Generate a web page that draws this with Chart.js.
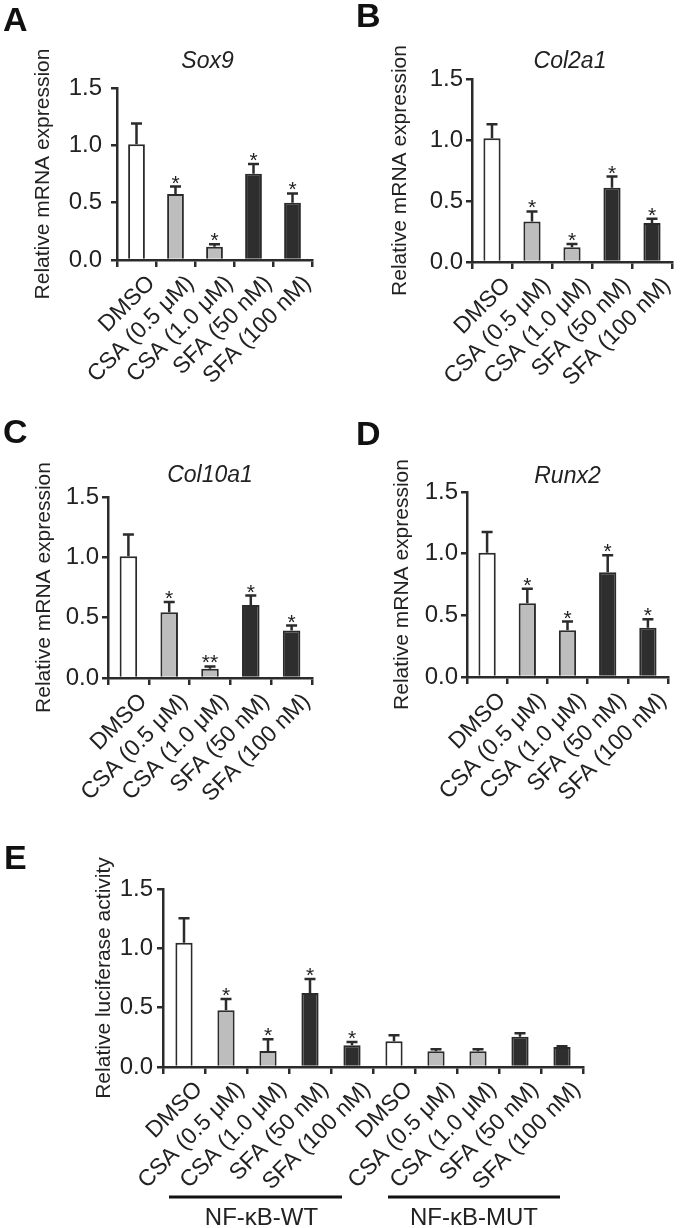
<!DOCTYPE html>
<html><head><meta charset="utf-8">
<script src="https://cdn.jsdelivr.net/npm/chart.js@4.4.1/dist/chart.umd.min.js"></script>
<style>
html,body{margin:0;padding:0;background:#fff;}
body{width:680px;height:1228px;position:relative;overflow:hidden;}
canvas{position:absolute;}
</style></head><body>
<canvas id="cA" style="left:0px;top:0px" width="340" height="395"></canvas>
<canvas id="cB" style="left:340px;top:0px" width="340" height="395"></canvas>
<canvas id="cC" style="left:0px;top:410px" width="340" height="400"></canvas>
<canvas id="cD" style="left:340px;top:410px" width="340" height="400"></canvas>
<canvas id="cE" style="left:0px;top:840px" width="680" height="388"></canvas>
<script>
// ---------- data ----------
const categories = ['DMSO','CSA (0.5 μM)','CSA (1.0 μM)','SFA (50 nM)','SFA (100 nM)'];
const categoriesE = categories.concat(categories);

const sox9     = [1.01, 0.576, 0.116, 0.753, 0.50];
const sox9Err  = [0.18, 0.064, 0.021, 0.084, 0.08];
const sox9Sig  = ['', '*', '*', '*', '*'];

const col2a1    = [1.014, 0.332, 0.12, 0.608, 0.32];
const col2a1Err = [0.116, 0.082, 0.027, 0.092, 0.034];
const col2a1Sig = ['', '*', '*', '*', '*'];

const col10a1    = [1.01, 0.545, 0.077, 0.606, 0.394];
const col10a1Err = [0.18, 0.085, 0.019, 0.077, 0.041];
const col10a1Sig = ['', '*', '**', '*', '*'];

const runx2    = [1.008, 0.597, 0.379, 0.849, 0.40];
const runx2Err = [0.167, 0.118, 0.07, 0.138, 0.068];
const runx2Sig = ['', '*', '*', '*', '*'];

const lucWT     = [1.048, 0.479, 0.135, 0.623, 0.183];
const lucWTErr  = [0.206, 0.093, 0.099, 0.118, 0.028];
const lucWTSig  = ['', '*', '*', '*', '*'];
const lucMUT    = [0.217, 0.132, 0.132, 0.254, 0.169];
const lucMUTErr = [0.051, 0.017, 0.017, 0.031, 0.006];
const lucMUTSig = ['', '', '', '', ''];

const groupNames = ['NF-κB-WT', 'NF-κB-MUT'];
const yTicks = [0, 0.5, 1.0, 1.5];

// ---------- style ----------
const FONT = '"Liberation Sans", Arial, Helvetica, sans-serif';
const INK = '#2b2b2b';
const TXT = '#222222';
const fills = ['#ffffff', '#bdbdbd', '#bdbdbd', '#2e2e2e', '#2e2e2e'];
Chart.defaults.font.family = FONT;

const decor = {
  id: 'decor',
  afterDatasetsDraw(chart, args, o) {
    const ctx = chart.ctx, y = chart.scales.y;
    const meta = chart.getDatasetMeta(0), vals = chart.data.datasets[0].data;
    ctx.save();
    ctx.strokeStyle = INK; ctx.lineWidth = 2.5; ctx.lineCap = 'butt';
    meta.data.forEach((bar, i) => {
      const v = vals[i], e = o.err[i];
      const yb = y.getPixelForValue(v), yt = y.getPixelForValue(v + e);
      const hw = o.cap / 2;
      ctx.beginPath();
      ctx.moveTo(bar.x, yb); ctx.lineTo(bar.x, yt);
      ctx.moveTo(bar.x - hw, yt); ctx.lineTo(bar.x + hw, yt);
      ctx.stroke();
      if (o.sig[i]) {
        ctx.fillStyle = TXT; ctx.font = '21px ' + FONT;
        ctx.textAlign = 'center'; ctx.textBaseline = 'alphabetic';
        ctx.fillText(o.sig[i], bar.x, yt + 3);
      }
    });
    ctx.restore();
  },
  afterDraw(chart, args, o) {
    const ctx = chart.ctx, ca = chart.chartArea;
    ctx.save();
    ctx.fillStyle = '#111';
    ctx.textBaseline = 'alphabetic';
    ctx.textAlign = 'left';
    ctx.font = 'bold 34px ' + FONT;
    ctx.fillText(o.letter[0], o.letter[1], o.letter[2]);
    if (o.title) {
      ctx.fillStyle = TXT;
      ctx.font = 'italic 23px ' + FONT;
      ctx.textAlign = 'center';
      ctx.fillText(o.title, (ca.left + ca.right) / 2 + o.titleDx, ca.top - o.titleGap);
    }
    if (o.groups) {
      const x = chart.scales.x;
      o.groups.forEach(g => {
        const x0 = x.getPixelForValue(g.from) + g.d0, x1 = x.getPixelForValue(g.to) + g.d1;
        ctx.strokeStyle = '#111'; ctx.lineWidth = 3;
        ctx.beginPath(); ctx.moveTo(x0, g.y); ctx.lineTo(x1, g.y); ctx.stroke();
        ctx.fillStyle = TXT; ctx.font = '24px ' + FONT; ctx.textAlign = 'center';
        ctx.fillText(g.name, (x0 + x1) / 2 + g.dt, g.y + 28);
      });
    }
    ctx.restore();
  }
};

function makeChart(id, c) {
  return new Chart(document.getElementById(id), {
    type: 'bar',
    data: {
      labels: c.labels,
      datasets: [{
        data: c.values,
        backgroundColor: c.colors,
        borderColor: INK,
        borderWidth: 2,
        barPercentage: c.barPct,
        categoryPercentage: 1
      }]
    },
    options: {
      responsive: false, animation: false, devicePixelRatio: 1,
      layout: { padding: { top: c.padTop, right: c.padRight, left: 0, bottom: 0 } },
      plugins: {
        legend: { display: false }, tooltip: { enabled: false }, title: { display: false },
        decor: { err: c.err, sig: c.sig, cap: 11, letter: c.letter, title: c.title, titleDx: c.titleDx || 0, titleGap: c.titleGap || 20, groups: c.groups }
      },
      scales: {
        x: {
          offset: true,
          grid: { offset: true, drawOnChartArea: false, drawTicks: true, tickLength: 7, color: INK, lineWidth: 2.5 },
          border: { color: INK, width: 2.5 },
          ticks: { autoSkip: false, minRotation: 45, maxRotation: 45, font: { size: 23 }, color: TXT, padding: c.xPad, labelOffset: c.xOff },
          afterFit(s) { s.height = c.xH; }
        },
        y: {
          min: 0, max: 1.5,
          afterBuildTicks(s) { s.ticks = yTicks.map(v => ({ value: v })); },
          ticks: { callback: v => Number(v).toFixed(1), font: { size: 24 }, color: TXT, padding: c.yPad },
          grid: { drawOnChartArea: false, drawTicks: true, tickLength: 6, color: INK, lineWidth: 2.5 },
          border: { color: INK, width: 2.5 },
          title: { display: true, text: c.yTitle, font: { size: 21 }, color: TXT, padding: { top: c.yTitlePad, bottom: 0 } },
          afterFit(s) { s.width = c.yW; }
        }
      }
    },
    plugins: [decor]
  });
}

const mRNA = 'Relative mRNA expression';

makeChart('cA', { labels: categories, values: sox9, err: sox9Err, sig: sox9Sig, colors: fills, barPct: 0.43,
  padTop: 88, padRight: 28, yW: 117, xH: 135, xPad: 3, xOff: 15, yPad: 9, yTitle: mRNA, yTitlePad: 31,
  letter: ['A', 3, 31], title: 'Sox9', titleDx: -7, titleGap: 20 });

makeChart('cB', { labels: categories, values: col2a1, err: col2a1Err, sig: col2a1Sig, colors: fills, barPct: 0.43,
  padTop: 79, padRight: 8, yW: 132, xH: 133, xPad: 3, xOff: 15, yPad: 3, yTitle: mRNA, yTitlePad: 48,
  letter: ['B', 16, 27], title: 'Col2a1', titleDx: -2, titleGap: 11 });

makeChart('cC', { labels: categories, values: col10a1, err: col10a1Err, sig: col10a1Sig, colors: fills, barPct: 0.43,
  padTop: 87, padRight: 28, yW: 108, xH: 132, xPad: 3, xOff: 15, yPad: 3, yTitle: mRNA, yTitlePad: 32,
  letter: ['C', 3, 33], title: 'Col10a1', titleDx: 0, titleGap: 15 });

makeChart('cD', { labels: categories, values: runx2, err: runx2Err, sig: runx2Sig, colors: fills, barPct: 0.43,
  padTop: 82, padRight: 12, yW: 127, xH: 133, xPad: 3, xOff: 15, yPad: 3, yTitle: mRNA, yTitlePad: 50,
  letter: ['D', 16, 35], title: 'Runx2', titleDx: 0, titleGap: 9 });

makeChart('cE', { labels: categoriesE, values: lucWT.concat(lucMUT), err: lucWTErr.concat(lucMUTErr),
  sig: lucWTSig.concat(lucMUTSig), colors: fills.concat(fills), barPct: 0.41,
  padTop: 49, padRight: 97, yW: 163, xH: 161, xPad: 2, xOff: 15, yPad: 4, yTitle: 'Relative luciferase activity', yTitlePad: 92,
  letter: ['E', 4, 29], title: null,
  groups: [ { name: groupNames[0], from: 0, to: 4, d0: -15, d1: -10, y: 357, dt: 6 },
            { name: groupNames[1], from: 5, to: 9, d0: -6, d1: -2, y: 357, dt: 0 } ] });
</script>
</body></html>
